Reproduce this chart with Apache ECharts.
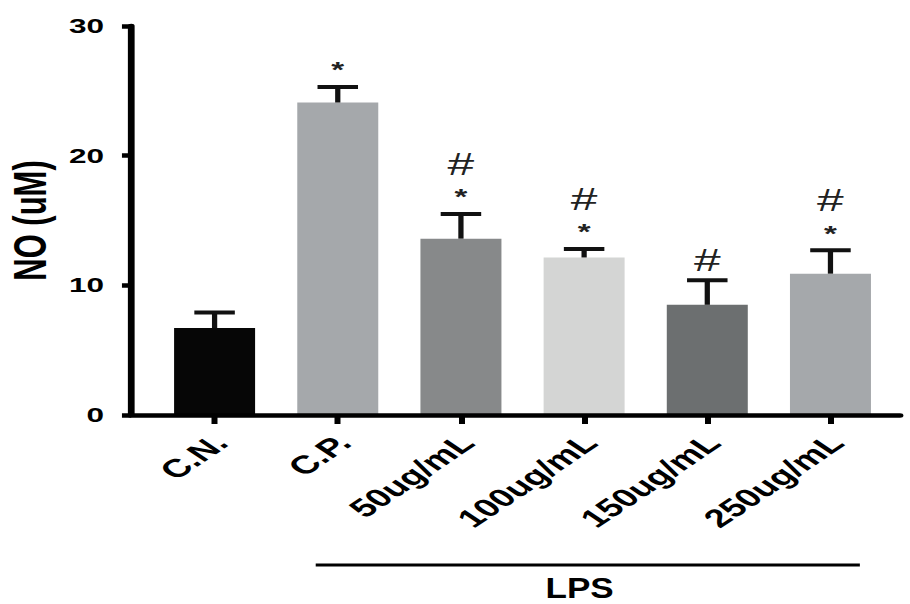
<!DOCTYPE html>
<html><head><meta charset="utf-8">
<script src="https://cdn.jsdelivr.net/npm/echarts@6/dist/echarts.min.js"></script>
<style>
html,body{margin:0;padding:0;background:#fff;overflow:hidden;}
#wrap{width:910px;height:604px;overflow:hidden;background:#fff;}
#chart{width:607px;height:604px;transform:scaleX(1.5);transform-origin:0 0;}
</style></head><body>
<div id="wrap"><div id="chart"></div></div>
<script>
// ---- data ----
const categories = ['C.N.', 'C.P.', '50ug/mL', '100ug/mL', '150ug/mL', '250ug/mL'];
const means = [6.7, 24.1, 13.6, 12.15, 8.5, 10.9];
const errors = [1.2, 1.2, 1.9, 0.65, 1.9, 1.8];
const starMarks = ['', '*', '*', '*', '', '*'];
const hashMarks = ['', '', '#', '#', '#', '#'];
const yMin = 0, yMax = 30, yStep = 10;
const yTitle = 'NO (uM)';
const groupLabel = 'LPS';
const groupFirst = 1, groupLast = 5;
// ---- style ----
const barColors = ['#060606', '#a5a8ab', '#87898a', '#d4d5d4', '#6c6f70', '#a5a8ab'];
const FONT = 'Liberation Sans, Arial, sans-serif';

const chart = echarts.init(document.getElementById('chart'), null, {renderer: 'svg'});

const option = {
  animation: false,
  backgroundColor: '#fff',
  grid: [
    {left: 87.3, right: 7, top: 26, bottom: 189, containLabel: false, outerBoundsMode: 'none'},
    {left: 102, right: 12.3, top: 26, bottom: 189, containLabel: false, outerBoundsMode: 'none'}
  ],
  xAxis: [
    {gridIndex: 0, type: 'value', min: 0, max: 1, z: 5,
     axisLine: {show: true, onZero: false, lineStyle: {color: '#000', width: 4.5}},
     axisTick: {show: false}, axisLabel: {show: false}, splitLine: {show: false}},
    {gridIndex: 1, type: 'category', data: categories, z: 5,
     axisLine: {show: false},
     axisTick: {show: true, alignWithLabel: true, length: 9, lineStyle: {color: '#000', width: 4}},
     axisLabel: {interval: 0, rotate: 45, margin: 28, padding: [0, -6, 0, 0], fontSize: 25.5, fontWeight: 'bold', color: '#000', fontFamily: FONT}}
  ],
  yAxis: [
    {gridIndex: 0, type: 'value', min: yMin, max: yMax, interval: yStep, z: 5,
     axisLine: {show: true, onZero: false, lineStyle: {color: '#000', width: 4.5}},
     axisTick: {show: true, length: 6, lineStyle: {color: '#000', width: 4.5}},
     axisLabel: {margin: 18, fontSize: 21, fontWeight: 'bold', color: '#000', fontFamily: FONT},
     splitLine: {show: false},
     name: yTitle, nameLocation: 'middle', nameGap: 50,
     nameTextStyle: {fontSize: 31, fontWeight: 'bold', color: '#000', fontFamily: FONT}},
    {gridIndex: 1, type: 'value', min: yMin, max: yMax, show: false, splitLine: {show: false}}
  ],
  series: [
    {type: 'bar', xAxisIndex: 1, yAxisIndex: 1, barWidth: 54,
     data: means.map((v, i) => ({value: v, itemStyle: {color: barColors[i]}}))},
    {type: 'custom', xAxisIndex: 1, yAxisIndex: 1, z: 4,
     data: means.map((v, i) => [i, v, errors[i]]),
     renderItem: function (params, api) {
       const i = api.value(0), m = api.value(1), e = api.value(2);
       const base = api.coord([i, m]);
       const top = api.coord([i, m + e]);
       const capHalf = 13.5;
       const children = [
         {type: 'line', shape: {x1: base[0], y1: base[1], x2: top[0], y2: top[1]}, style: {stroke: '#111', lineWidth: 3.5}},
         {type: 'line', shape: {x1: top[0] - capHalf, y1: top[1], x2: top[0] + capHalf, y2: top[1]}, style: {stroke: '#111', lineWidth: 4}}
       ];
       const star = starMarks[i], hash = hashMarks[i];
       if (star) children.push({type: 'text', x: top[0], y: top[1] - 17,
         style: {text: star, fill: '#222', font: 'bold 22px ' + FONT, align: 'center', verticalAlign: 'middle'}});
       if (hash) children.push({type: 'text', x: top[0], y: top[1] - (star ? 50 : 20),
         style: {text: hash, fill: '#222', font: '32px ' + FONT, align: 'center', verticalAlign: 'middle'}});
       return {type: 'group', children: children};
     }}
  ]
};
chart.setOption(option);

const pA = chart.convertToPixel({gridIndex: 1}, [groupFirst, 0]);
const pB = chart.convertToPixel({gridIndex: 1}, [groupLast, 0]);
const lineY = 565;
chart.setOption({
  graphic: [
    {type: 'line', shape: {x1: pA[0] - 14.7, y1: lineY, x2: pB[0] + 19.6, y2: lineY}, style: {stroke: '#000', lineWidth: 3}},
    {type: 'text', x: (pA[0] + pB[0]) / 2 - 3, y: 599, scaleX: 0.78,
     style: {text: groupLabel, fill: '#000', font: 'bold 30px ' + FONT, lineHeight: 24, align: 'center', verticalAlign: 'bottom'}}
  ]
});
</script>
</body></html>
